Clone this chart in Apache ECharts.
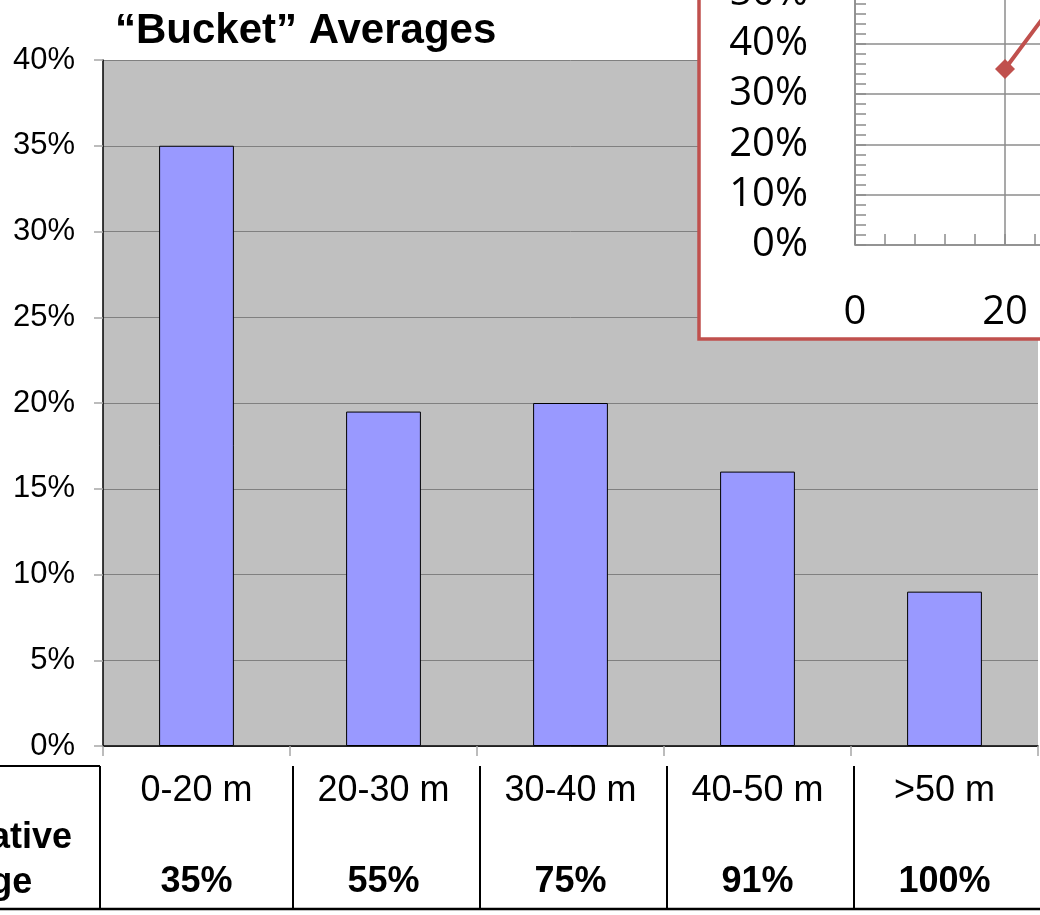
<!DOCTYPE html>
<html><head><meta charset="utf-8">
<script src="https://cdn.jsdelivr.net/npm/echarts@6/dist/echarts.min.js"></script>
<style>html,body{margin:0;padding:0;background:#fff}#c{width:1040px;height:915px}</style>
</head><body><div id="c"></div>
<script>
// ---- data ----
const categories = ['0-20 m', '20-30 m', '30-40 m', '40-50 m', '>50 m'];
const bucketAverages = [0.35, 0.195, 0.20, 0.16, 0.09];
const cumulativeLabels = ['35%', '55%', '75%', '91%', '100%'];
const cumulativePct = [0.35, 0.55, 0.75, 0.91];
const bucketUpper = [20, 30, 40, 50];
const titleText = '\u201CBucket\u201D Averages';
const rowHeader = ['Cumulative', 'Average'];

const pct = v => Math.round(v * 100) + '%';
const FONT = 'Liberation Sans, Arial, sans-serif';
const INSET_FONT = 'Open Sans, sans-serif';
const insetGray = '#8C8C8C';

const chart = echarts.init(document.getElementById('c'));
const option = {
  animation: false,
  grid: [
    { left: 103, top: 60, width: 935, height: 686, show: true, backgroundColor: '#C0C0C0', borderWidth: 0,
      outerBoundsMode: 'none', containLabel: false },
    { left: 855, top: -258, width: 450, height: 503, show: false, outerBoundsMode: 'none', containLabel: false }
  ],
  xAxis: [
    { type: 'category', gridIndex: 0, data: categories,
      axisLine: { lineStyle: { color: '#000', width: 1.5 } },
      axisTick: { show: true, length: 10, lineStyle: { color: '#A6A6A6', width: 1.5 } },
      axisLabel: { margin: 27, fontFamily: FONT, fontSize: 36, color: '#000', interval: 0 },
      splitLine: { show: false } },
    { type: 'category', gridIndex: 0, data: cumulativeLabels, position: 'bottom', offset: 96,
      axisLine: { show: false }, axisTick: { show: false },
      axisLabel: { margin: 22, fontFamily: FONT, fontSize: 36, fontWeight: 'bold', color: '#000', interval: 0 } },
    { type: 'value', gridIndex: 1, min: 0, max: 60, interval: 20, z: 60,
      axisLine: { show: true, lineStyle: { color: insetGray, width: 1.5 } },
      axisTick: { show: true, inside: true, length: 11, lineStyle: { color: insetGray, width: 1.5 } },
      minorTick: { show: true, splitNumber: 5, length: 11, lineStyle: { color: insetGray, width: 1.5 } },
      splitLine: { show: true, lineStyle: { color: insetGray, width: 1.5 } },
      axisLabel: { margin: 48, fontFamily: INSET_FONT, fontSize: 40, color: '#000' } }
  ],
  yAxis: [
    { type: 'value', gridIndex: 0, min: 0, max: 0.4, interval: 0.05,
      axisLine: { show: true, lineStyle: { color: '#000', width: 1.5 } },
      axisTick: { show: true, length: 9, lineStyle: { color: '#A6A6A6', width: 1.5 } },
      splitLine: { show: true, lineStyle: { color: '#808080', width: 1 } },
      axisLabel: { formatter: pct, margin: 28, fontFamily: FONT, fontSize: 31, color: '#000' } },
    { type: 'value', gridIndex: 1, min: 0, max: 1, interval: 0.1, z: 60,
      axisLine: { show: true, lineStyle: { color: insetGray, width: 1.5 } },
      axisTick: { show: true, inside: true, length: 11, lineStyle: { color: insetGray, width: 1.5 } },
      minorTick: { show: true, splitNumber: 5, length: 11, lineStyle: { color: insetGray, width: 1.5 } },
      splitLine: { show: true, lineStyle: { color: insetGray, width: 1.5 } },
      axisLabel: { formatter: pct, margin: 47, fontFamily: INSET_FONT, fontSize: 40, color: '#000' } }
  ],
  series: [
    { type: 'bar', xAxisIndex: 0, yAxisIndex: 0, data: bucketAverages, barWidth: '40%',
      itemStyle: { color: '#9999FF', borderColor: '#000', borderWidth: 1 } },
    { type: 'line', xAxisIndex: 2, yAxisIndex: 1, z: 70,
      data: bucketUpper.map((x, i) => [x, cumulativePct[i]]),
      symbol: 'diamond', symbolSize: 20, showSymbol: true,
      lineStyle: { color: '#C0504D', width: 4 }, itemStyle: { color: '#C0504D' } }
  ]
};
chart.setOption(option);

// table borders derived from category band positions
const c0 = chart.convertToPixel({ xAxisIndex: 0 }, categories[0]);
const c1 = chart.convertToPixel({ xAxisIndex: 0 }, categories[1]);
const half = (c1 - c0) / 2;
const tableTop = 766, tableBottom = 909;
const graphics = [
  { type: 'rect', z: 50, shape: { x: 699, y: -20, width: 420, height: 359 },
    style: { fill: '#fff', stroke: '#C0504D', lineWidth: 3.5 } },
  { type: 'text', z: 100, x: 115, y: 31,
    style: { text: titleText, fontFamily: FONT, fontSize: 42, fontWeight: 'bold', fill: '#000',
             textAlign: 'left', textVerticalAlign: 'middle' } },
  { type: 'line', z: 100, shape: { x1: 0, y1: tableBottom, x2: 1040, y2: tableBottom },
    style: { stroke: '#000', lineWidth: 2.5 } },
  { type: 'line', z: 100, shape: { x1: 0, y1: tableTop, x2: c0 - half - 3, y2: tableTop },
    style: { stroke: '#000', lineWidth: 2 } },
  { type: 'line', z: 100, shape: { x1: c0 - half - 3, y1: tableTop, x2: c0 - half - 3, y2: tableBottom },
    style: { stroke: '#000', lineWidth: 2 } },
  { type: 'text', z: 100, x: -25, y: 838,
    style: { text: rowHeader[0], fontFamily: FONT, fontSize: 36, fontWeight: 'bold', fill: '#000',
             textAlign: 'center', textVerticalAlign: 'middle' } },
  { type: 'text', z: 100, x: -38, y: 883,
    style: { text: rowHeader[1], fontFamily: FONT, fontSize: 36, fontWeight: 'bold', fill: '#000',
             textAlign: 'center', textVerticalAlign: 'middle' } }
];
for (let i = 1; i < categories.length; i++) {
  const x = chart.convertToPixel({ xAxisIndex: 0 }, categories[i]) - half + 3;
  graphics.push({ type: 'line', z: 100, shape: { x1: x, y1: tableTop, x2: x, y2: tableBottom },
    style: { stroke: '#000', lineWidth: 2 } });
}
chart.setOption({ graphic: graphics });
</script>
</body></html>
